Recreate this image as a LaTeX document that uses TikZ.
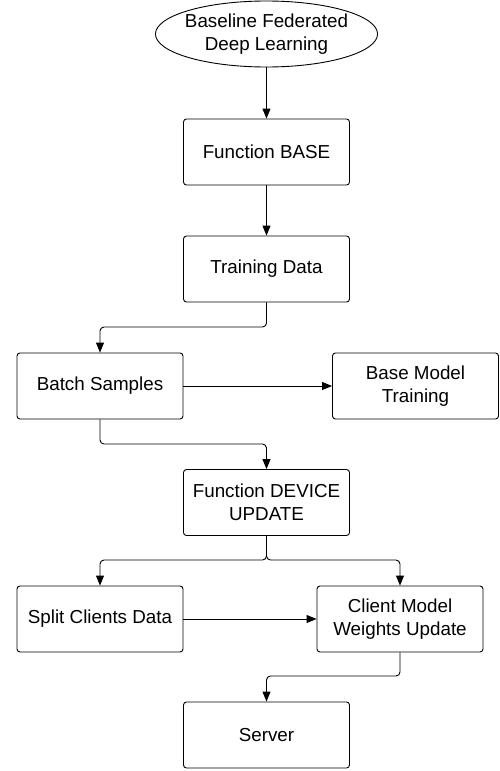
\documentclass[tikz,border=0pt]{standalone}
\usepackage{fontspec}
\setmainfont{Liberation Sans}
\usetikzlibrary{arrows.meta,shapes.geometric}
\begin{document}
\begin{tikzpicture}[x=1pt,y=-1pt,
  every node/.style={font=\fontsize{18.8}{22.8}\selectfont, align=center, inner sep=0pt},
  box/.style={draw, line width=0.9pt, rounded corners=3pt, minimum width=166pt, minimum height=66pt},
  oval/.style={draw, line width=0.9pt, ellipse, inner xsep=-3pt, inner ysep=0pt, minimum width=218pt, minimum height=66pt},
  conn/.style={draw, line width=0.9pt, rounded corners=4pt, -{Triangle[length=10pt,width=8pt]}}]
\useasboundingbox (0,0) rectangle (499,771);
\node[oval] (start) at (266.5,34) {Baseline Federated\\Deep Learning};
\node[box] (base) at (266.5,152) {Function BASE};
\node[box] (train) at (266.5,269) {Training Data};
\node[box] (batch) at (100,386) {Batch Samples};
\node[box] (bmt) at (415.5,386) {Base Model\\Training};
\node[box] (dev) at (266.5,502.5) {Function DEVICE\\UPDATE};
\node[box] (split) at (100,619) {Split Clients Data};
\node[box] (client) at (400,619) {Client Model\\Weights Update};
\node[box] (server) at (266.5,735) {Server};
\coordinate (c1) at (266.5,327);
\coordinate (c2) at (100,444);
\coordinate (c3) at (266.5,560);
\coordinate (c4) at (400,676);
\draw[conn] (start) -- (base);
\draw[conn] (base) -- (train);
\draw[conn] (train.south) -- (c1) -| (batch.north);
\draw[conn] (batch) -- (bmt);
\draw[conn] (batch.south) -- (c2) -| (dev.north);
\draw[conn] (dev.south) -- (c3) -| (split.north);
\draw[conn] (dev.south) -- (c3) -| (client.north);
\draw[conn] (split) -- (client);
\draw[conn] (client.south) -- (c4) -| (server.north);
\end{tikzpicture}
\end{document}
